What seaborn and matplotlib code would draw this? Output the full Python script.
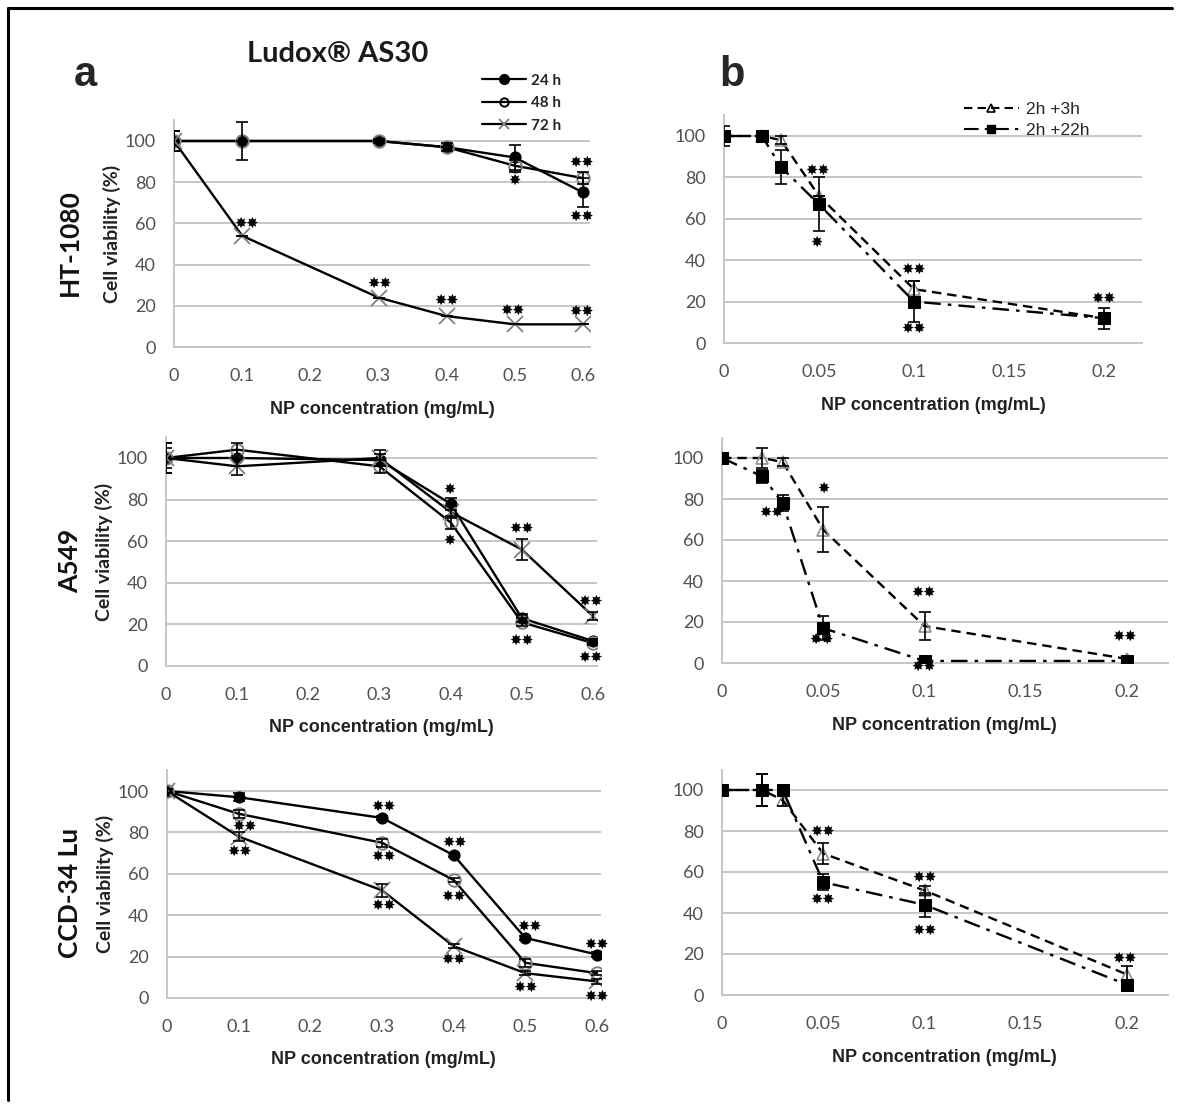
"""
Ludox AS30 cell viability panels (HT-1080, A549, CCD-34 Lu).
"""

import matplotlib
matplotlib.use("Agg")
import matplotlib.pyplot as plt
import numpy as np
import pandas as pd
import seaborn as sns
from matplotlib.lines import Line2D

# ---- data -------------------------------------------------------------
conc_a = [0, 0.1, 0.3, 0.4, 0.5, 0.6]
conc_b = [0, 0.02, 0.03, 0.05, 0.1, 0.2]
cells = ["HT-1080", "A549", "CCD-34 Lu"]
times_a = ["24 h", "48 h", "72 h"]
times_b = ["2h +3h", "2h +22h"]

# panel a: viability (%) per time point
ht_24 = [100, 100, 100, 97, 92, 75]
ht_48 = [100, 100, 100, 97, 88, 82]
ht_72 = [100, 54, 24, 15, 11, 11]
a549_24 = [100, 100, 99, 78, 23, 12]
a549_48 = [100, 104, 96, 69, 21, 11]
a549_72 = [100, 96, 100, 74, 56, 24]
ccd_24 = [100, 97, 87, 69, 29, 21]
ccd_48 = [100, 89, 75, 57, 17, 12]
ccd_72 = [100, 78, 52, 25, 12, 8]

ht_24_err = [5, 9, 1, 2, 6, 7]
ht_48_err = [5, 0, 0, 0, 3, 3]
ht_72_err = [5, 0, 0, 0, 0, 0]
a549_24_err = [7, 4, 3, 3, 2, 1]
a549_48_err = [5, 3, 3, 3, 2, 1]
a549_72_err = [7, 4, 4, 3, 5, 2]
ccd_24_err = [1, 2, 1, 1, 1, 1]
ccd_48_err = [1, 2, 2, 1, 2, 1]
ccd_72_err = [1, 2, 3, 1, 1, 1]

# panel b: viability (%) after 2 h exposure + recovery
ht_3 = [100, 100, 98, 71, 26, 12]
ht_22 = [100, 100, 85, 67, 20, 12]
a549_3 = [100, 100, 98, 65, 18, 2]
a549_22 = [100, 91, 78, 17, 1, 1]
ccd_3 = [100, 100, 95, 69, 51, 10]
ccd_22 = [100, 100, 100, 55, 44, 5]

ht_3_err = [0, 0, 2, 0, 4, 0]
ht_22_err = [5, 0, 8, 13, 10, 5]
a549_3_err = [0, 5, 2, 11, 7, 1]
a549_22_err = [0, 3, 4, 6, 1, 1]
ccd_3_err = [0, 8, 3, 5, 2, 4]
ccd_22_err = [0, 8, 0, 4, 6, 2]

# significance marks: (x, y, text)
stars_a = [
    [(0.107, 60, "**"), (0.302, 31, "**"), (0.4, 22.5, "**"), (0.497, 18, "**"),
     (0.598, 17.5, "**"), (0.499, 81, "*"), (0.598, 89.5, "**"), (0.598, 63.5, "**")],
    [(0.399, 85, "*"), (0.399, 60.5, "*"), (0.5, 66, "**"), (0.5, 12.5, "**"),
     (0.597, 31, "**"), (0.597, 4, "**")],
    [(0.109, 83, "**"), (0.102, 71, "**"), (0.302, 92.5, "**"), (0.302, 68.5, "**"),
     (0.302, 45, "**"), (0.402, 75, "**"), (0.4, 49, "**"), (0.4, 18.5, "**"),
     (0.506, 34.5, "**"), (0.5, 5, "**"), (0.6, 26, "**"), (0.6, 1, "**")],
]
stars_b = [
    [(0.0495, 83.5, "**"), (0.0488, 48.5, "*"), (0.0996, 35.5, "**"),
     (0.0996, 7, "**"), (0.2, 21.5, "**")],
    [(0.05, 85, "*"), (0.0247, 73.5, "**"), (0.049, 11.5, "**"), (0.0996, 34.5, "**"),
     (0.0996, -1.5, "**"), (0.199, 13, "**")],
    [(0.0499, 80, "**"), (0.0499, 46.5, "**"), (0.1, 57.5, "**"),
     (0.1, 31.5, "**"), (0.199, 18, "**")],
]

a_vals = [[ht_24, ht_48, ht_72], [a549_24, a549_48, a549_72], [ccd_24, ccd_48, ccd_72]]
a_errs = [[ht_24_err, ht_48_err, ht_72_err], [a549_24_err, a549_48_err, a549_72_err],
          [ccd_24_err, ccd_48_err, ccd_72_err]]
b_vals = [[ht_3, ht_22], [a549_3, a549_22], [ccd_3, ccd_22]]
b_errs = [[ht_3_err, ht_22_err], [a549_3_err, a549_22_err], [ccd_3_err, ccd_22_err]]

# ---- style ------------------------------------------------------------
sns.set_theme(style="white")
plt.rcParams["font.family"] = ["Lato", "DejaVu Sans"]

W, H = 1177, 1106
fig = plt.figure(figsize=(W / 100, H / 100), dpi=100)

GRID = "#c6c6c6"
TICK = "#505050"
STAR_FONT = ["DejaVu Sans"]

a_style = [
    dict(marker="o", ms=8, mfc="black", mec="black", ls="-"),
    dict(marker="o", ms=9, mfc="none", mec="#808080", mew=1.4, ls="-"),
    dict(marker="x", ms=11, mec="#808080", mew=1.3, ls="-"),
]
b_style = [
    dict(marker="^", ms=9, mfc="none", mec="#909090", mew=1.2, ls=(0, (4, 2.5))),
    dict(marker="s", ms=9, mfc="black", mec="black", ls=(0, (7, 3, 1.5, 3))),
]


def make_axes(x0, xref_px, xref, y0, y100, xmax):
    """Place an axes so that data x=0 / y=0 land on given pixels."""
    sx = (xref_px - x0) / xref
    sy = (y0 - y100) / 100.0
    width = sx * xmax
    height = sy * 110
    return fig.add_axes([x0 / W, (H - y0) / H, width / W, height / H])


def style_axes(ax, xticks, xlabels, xmax):
    ax.set_xlim(0, xmax)
    ax.set_ylim(0, 110)
    ax.set_yticks([0, 20, 40, 60, 80, 100])
    ax.set_xticks(xticks)
    ax.set_xticklabels(xlabels)
    ax.grid(axis="y", color=GRID, lw=1.4)
    ax.grid(axis="x", visible=False)
    for s in ["top", "right"]:
        ax.spines[s].set_visible(False)
    for s in ["left", "bottom"]:
        ax.spines[s].set_color(GRID)
        ax.spines[s].set_linewidth(1.4)
        ax.spines[s].set_zorder(0)
    ax.spines["left"].set_bounds(0, 110)
    ax.tick_params(axis="both", colors=GRID, labelcolor=TICK, labelsize=13,
                   direction="out", length=6, width=1.4, pad=7)
    ax.tick_params(axis="x", pad=9)
    ax.set_facecolor("none")
    ax.set_xlabel("NP concentration (mg/mL)", fontsize=13, fontweight="bold",
                  family=["Liberation Sans"], color="#222222", labelpad=12)


def draw_stars(ax, marks):
    for x, y, txt in marks:
        ax.text(x, y, "✸" * len(txt), ha="center", va="center", fontsize=10.5,
                family=STAR_FONT, color="black")


a_axes = [
    make_axes(174, 583, 0.6, 347, 141, 0.61),
    make_axes(166, 593, 0.6, 666, 458, 0.605),
    make_axes(167, 597, 0.6, 998, 791, 0.605),
]
b_axes = [
    make_axes(724, 1104, 0.2, 343, 136, 0.22),
    make_axes(722, 1127, 0.2, 663, 458, 0.22),
    make_axes(722, 1127, 0.2, 995, 790, 0.22),
]

for i, ax in enumerate(a_axes):
    for j, (vals, errs) in enumerate(zip(a_vals[i], a_errs[i])):
        df = pd.DataFrame({"conc": conc_a, "viab": vals})
        sns.lineplot(data=df, x="conc", y="viab", ax=ax, color="black", lw=1.7,
                     zorder=3, **a_style[j])
        ax.errorbar(conc_a, vals, yerr=errs, fmt="none", ecolor="black",
                    elinewidth=1.2, capsize=4, capthick=1.2, zorder=4)
    style_axes(ax, [0, 0.1, 0.2, 0.3, 0.4, 0.5, 0.6],
               ["0", "0.1", "0.2", "0.3", "0.4", "0.5", "0.6"], [0.61, 0.605, 0.605][i])
    ax.set_ylabel("Cell viability (%)", fontsize=14, fontweight="bold",
                  color="#222222", labelpad=3)
    draw_stars(ax, stars_a[i])

for i, ax in enumerate(b_axes):
    for j, (vals, errs) in enumerate(zip(b_vals[i], b_errs[i])):
        df = pd.DataFrame({"conc": conc_b, "viab": vals})
        sns.lineplot(data=df, x="conc", y="viab", ax=ax, color="black", lw=1.7,
                     zorder=3, **b_style[j])
        ax.errorbar(conc_b, vals, yerr=errs, fmt="none", ecolor="black",
                    elinewidth=1.2, capsize=4, capthick=1.2, zorder=4)
    style_axes(ax, [0, 0.05, 0.1, 0.15, 0.2], ["0", "0.05", "0.1", "0.15", "0.2"], 0.22)
    ax.set_ylabel("")
    draw_stars(ax, stars_b[i])

# row labels
for ax, name in zip(a_axes, cells):
    yc = (ax.get_position().y0 + ax.get_position().y1) / 2
    fig.text(70 / W, yc - 0.008, name, rotation=90, ha="center", va="center",
             fontsize=19, fontweight="bold", color="#111111")

# panel letters and title
fig.text(85 / W, 1 - 75 / H, "a", fontsize=30, fontweight="bold",
         family=["Liberation Sans"], ha="center", va="center")
fig.text(732 / W, 1 - 75 / H, "b", fontsize=30, fontweight="bold",
         family=["Liberation Sans"], ha="center", va="center")
fig.text(338 / W, 1 - 54 / H, "Ludox® AS30", fontsize=21, fontweight="bold",
         ha="center", va="center", color="#1a1a1a")

# legends
a_handles = [Line2D([], [], color="black", lw=1.6, **dict(a_style[0], ms=7)),
             Line2D([], [], color="black", lw=1.6, **dict(a_style[1], ms=6, mec="black")),
             Line2D([], [], color="black", lw=1.6, **dict(a_style[2], ms=7))]
fig.legend(a_handles, times_a, loc="upper left",
           bbox_to_anchor=(468 / W, 1 - 60 / H), frameon=False,
           handlelength=2.9, labelspacing=0.55, handletextpad=0.3,
           prop=dict(family="Lato", weight="bold", size=11))
b_handles = [Line2D([], [], color="black", lw=1.5, **dict(b_style[0], ms=6, mec="black")),
             Line2D([], [], color="black", lw=1.5, **dict(b_style[1], ms=6))]
fig.legend(b_handles, times_b, loc="upper left",
           bbox_to_anchor=(948 / W, 1 - 86 / H), frameon=False,
           handlelength=3.2, labelspacing=0.35, handletextpad=0.4,
           prop=dict(family="Liberation Sans", size=12.5))

# outer frame (top and left edges of the original crop)
fig.add_artist(Line2D([8 / W, 8 / W], [1 - 8 / H, 1 - 1100 / H], color="black", lw=2.2))
fig.add_artist(Line2D([8 / W, 1172 / W], [1 - 8 / H, 1 - 8 / H], color="black", lw=2.2))

fig.savefig("out.png", dpi=100, facecolor="white")
